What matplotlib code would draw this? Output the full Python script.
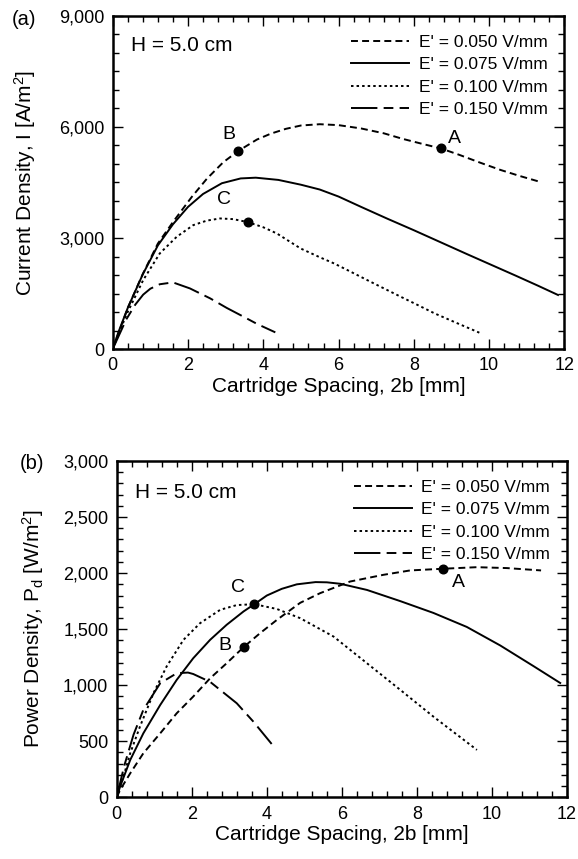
import matplotlib
matplotlib.use("Agg")
import matplotlib.pyplot as plt
from matplotlib.ticker import MultipleLocator, FuncFormatter

plt.rcParams['font.family'] = ['Liberation Sans', 'DejaVu Sans']
plt.rcParams['lines.scale_dashes'] = False
plt.rcParams['mathtext.fontset'] = 'custom'
plt.rcParams['mathtext.rm'] = 'Liberation Sans'
plt.rcParams['mathtext.it'] = 'Liberation Sans'

# (a) current density vs cartridge spacing
i_x_050 = [0, 0.4, 0.8, 1.2, 1.6, 2.1, 2.5, 2.94, 3.34, 3.83, 4.2, 4.6, 5.0, 5.5,
           6.0, 6.6, 7.2, 7.7, 8.2, 8.72, 9.2, 9.75, 10.3, 10.8, 11.35]
i_y_050 = [0, 1110, 2030, 2850, 3430, 4110, 4600, 5050, 5355, 5660, 5820, 5950, 6040, 6075,
           6050, 5960, 5830, 5680, 5550, 5420, 5250, 5040, 4840, 4680, 4518]
i_x_075 = [0, 0.15, 0.4, 0.8, 1.2, 1.6, 2.0, 2.4, 2.9, 3.4, 3.8, 4.4, 5.0, 5.5,
           6.0, 6.6, 7.3, 8.0, 8.7, 9.4, 10.0, 10.7, 11.3, 11.83]
i_y_075 = [0, 450, 1110, 2020, 2800, 3370, 3840, 4190, 4480, 4610, 4630, 4570, 4440, 4310,
           4120, 3840, 3520, 3210, 2890, 2570, 2300, 1985, 1710, 1460]
i_x_100 = [0, 0.36, 0.81, 1.25, 1.7, 2.14, 2.5, 2.85, 3.2, 3.59, 4.0, 4.36, 4.99, 5.5,
           5.88, 6.3, 6.76, 7.2, 7.65, 8.1, 8.55, 9.1, 9.74]
i_y_100 = [0, 918, 1863, 2583, 3033, 3348, 3470, 3528, 3510, 3429, 3290, 3123, 2718, 2480,
           2313, 2100, 1863, 1640, 1413, 1190, 963, 720, 441]
i_x_150 = [0, 0.36, 0.6, 0.81, 1.0, 1.25, 1.6, 2.05, 2.59, 3.03, 3.48, 3.83, 4.32]
i_y_150 = [0, 800, 1200, 1470, 1630, 1750, 1800, 1638, 1368, 1110, 870, 680, 450]

# (b) power density vs cartridge spacing
p_x_050 = [0, 0.09, 0.36, 0.71, 1.16, 1.6, 2.04, 2.49, 2.93, 3.4, 3.82, 4.27, 4.89,
           5.42, 6.22, 7.11, 7.82, 8.69, 9.6, 10.4, 11.31]
p_y_050 = [0, 65, 214, 393, 571, 750, 899, 1062, 1196, 1345, 1464, 1583, 1735,
           1821, 1925, 1985, 2024, 2039, 2053, 2045, 2024]
p_x_075 = [0, 0.09, 0.36, 0.71, 1.16, 1.6, 2.04, 2.49, 2.93, 3.38, 3.67, 4.0, 4.4, 4.8,
           5.3, 5.6, 5.96, 6.67, 7.56, 8.44, 9.33, 10.22, 11.11, 11.82]
p_y_075 = [0, 95, 333, 571, 824, 1048, 1241, 1405, 1539, 1658, 1723, 1800, 1860, 1900,
           1920, 1918, 1905, 1850, 1750, 1645, 1520, 1355, 1170, 1020]
p_x_100 = [0, 0.18, 0.36, 0.62, 0.98, 1.33, 1.78, 2.22, 2.76, 3.2, 3.67, 4.27, 4.89,
           5.78, 6.67, 7.56, 8.44, 9.6]
p_y_100 = [0, 185, 393, 631, 929, 1167, 1405, 1553, 1673, 1715, 1723, 1680, 1598,
           1434, 1196, 958, 720, 423]
p_x_150 = [0, 0.2, 0.45, 0.71, 1.16, 1.6, 1.9, 2.04, 2.49, 3.2, 3.64, 4.13]
p_y_150 = [0, 280, 560, 780, 1018, 1107, 1113, 1100, 1030, 839, 676, 476]

# labelled operating points: name, x, y
i_points = [('B', 3.34, 5355), ('A', 8.72, 5420), ('C', 3.59, 3429)]
p_points = [('B', 3.40, 1345), ('A', 8.69, 2039), ('C', 3.67, 1723)]

labels = ["E' = 0.050 V/mm", "E' = 0.075 V/mm", "E' = 0.100 V/mm", "E' = 0.150 V/mm"]
styles = [dict(dashes=(5, 3)), dict(linestyle='-'), dict(dashes=(1.8, 2.2)),
          dict(dashes=(19, 4.5, 7, 4.5))]

# label offsets in points
i_offsets = {'B': (-7, 12), 'A': (10, 7), 'C': (-17, 16)}
p_offsets = {'B': (-14, 1), 'A': (11, -10), 'C': (-12, 12)}

fig = plt.figure(figsize=(5.78, 8.59), dpi=100)
ax1 = fig.add_axes([0.195, 0.5937, 0.7815, 0.3877])
ax2 = fig.add_axes([0.2019, 0.0718, 0.779, 0.3915])

comma = FuncFormatter(lambda v, p: '{:,.0f}'.format(v))


def style_axes(ax, ymax, ymajor, yminor, ylabel, ypad, htext_y):
    ax.set_xlim(0, 12)
    ax.set_ylim(0, ymax)
    ax.xaxis.set_major_locator(MultipleLocator(2))
    ax.xaxis.set_minor_locator(MultipleLocator(0.4))
    ax.yaxis.set_major_locator(MultipleLocator(ymajor))
    ax.yaxis.set_minor_locator(MultipleLocator(yminor))
    ax.yaxis.set_major_formatter(comma)
    ax.tick_params(which='both', direction='in', top=True, right=True,
                   labelsize=13, width=1.0)
    ax.tick_params(which='major', length=7)
    ax.tick_params(which='minor', length=4)
    ax.tick_params(axis='x', which='major', pad=6)
    ax.tick_params(axis='y', which='major', pad=6)
    for s in ax.spines.values():
        s.set_linewidth(1.8)
    ax.set_xlabel('Cartridge Spacing, 2b [mm]', fontsize=15, labelpad=2)
    ax.set_ylabel(ylabel, fontsize=15, labelpad=ypad)
    ax.text(0.04, htext_y, 'H = 5.0 cm', transform=ax.transAxes, fontsize=15,
            va='center', ha='left')


def draw(ax, series, points, offsets):
    for (xs, ys), lab, st in zip(series, labels, styles):
        ax.plot(xs, ys, color='black', lw=1.4, label=lab, **st)
    for name, px, py in points:
        ax.plot(px, py, 'o', color='black', ms=6.2, zorder=5)
        ax.annotate(name, (px, py), xytext=offsets[name], textcoords='offset points',
                    ha='center', va='center', fontsize=14)
    ax.legend(loc='upper right', frameon=False, fontsize=12.5, handlelength=3.35,
              handletextpad=0.55, labelspacing=0.42, borderaxespad=0.0,
              bbox_to_anchor=(0.978, 0.965))


draw(ax1, [(i_x_050, i_y_050), (i_x_075, i_y_075), (i_x_100, i_y_100), (i_x_150, i_y_150)],
     i_points, i_offsets)
style_axes(ax1, 9000, 3000, 500, 'Current Density, I [A/m$^2$]', 15, 0.91)

draw(ax2, [(p_x_050, p_y_050), (p_x_075, p_y_075), (p_x_100, p_y_100), (p_x_150, p_y_150)],
     p_points, p_offsets)
style_axes(ax2, 3000, 500, 100, 'Power Density, P$_\\mathrm{d}$ [W/m$^2$]', 12, 0.907)

fig.text(0.021, 0.977, '(a)', fontsize=14.5, va='center')
fig.text(0.035, 0.461, '(b)', fontsize=14.5, va='center')

fig.savefig('out.png', dpi=100)
